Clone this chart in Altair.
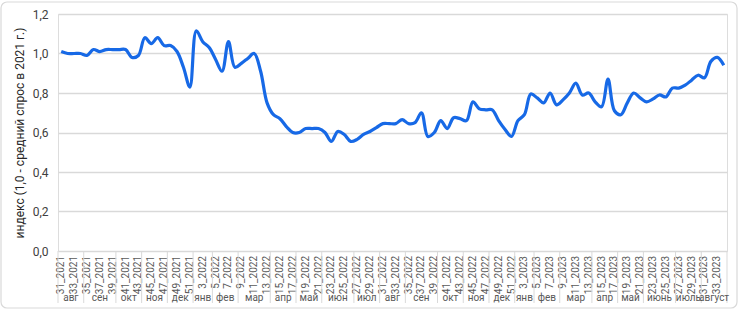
import altair as alt
import pandas as pd

weeks = [
    "31_2021", "32_2021", "33_2021", "34_2021", "35_2021", "36_2021", "37_2021", "38_2021",
    "39_2021", "40_2021", "41_2021", "42_2021", "43_2021", "44_2021", "45_2021", "46_2021",
    "47_2021", "48_2021", "49_2021", "50_2021", "51_2021", "1_2022", "3_2022", "4_2022",
    "5_2022", "6_2022", "7_2022", "8_2022", "9_2022", "10_2022", "11_2022", "12_2022",
    "13_2022", "14_2022", "15_2022", "16_2022", "17_2022", "18_2022", "19_2022", "20_2022",
    "21_2022", "22_2022", "23_2022", "24_2022", "25_2022", "26_2022", "27_2022", "28_2022",
    "29_2022", "30_2022", "31_2022", "32_2022", "33_2022", "34_2022", "35_2022", "36_2022",
    "37_2022", "38_2022", "39_2022", "40_2022", "41_2022", "42_2022", "43_2022", "44_2022",
    "45_2022", "46_2022", "47_2022", "48_2022", "49_2022", "50_2022", "51_2022", "1_2023",
    "3_2023", "4_2023", "5_2023", "6_2023", "7_2023", "8_2023", "9_2023", "10_2023",
    "11_2023", "12_2023", "13_2023", "14_2023", "15_2023", "16_2023", "17_2023", "18_2023",
    "19_2023", "20_2023", "21_2023", "22_2023", "23_2023", "24_2023", "25_2023", "26_2023",
    "27_2023", "28_2023", "29_2023", "30_2023", "31_2023", "32_2023", "33_2023", "34_2023",
]

values = [
    1.01, 1.00, 1.00, 1.00, 0.99, 1.02, 1.01, 1.02, 1.02, 1.02,
    1.02, 0.98, 0.99, 1.08, 1.05, 1.08, 1.04, 1.04, 1.01, 0.93,
    0.83, 1.115, 1.06, 1.03, 0.97, 0.91, 1.06, 0.93, 0.95, 0.975,
    1.00, 0.91, 0.75, 0.69, 0.67, 0.63, 0.60, 0.60, 0.62, 0.62,
    0.62, 0.60, 0.555, 0.605, 0.59, 0.555, 0.565, 0.59, 0.605, 0.625,
    0.645, 0.645, 0.645, 0.665, 0.645, 0.65, 0.70, 0.58, 0.60, 0.66,
    0.62, 0.675, 0.67, 0.66, 0.755, 0.72, 0.715, 0.715, 0.66, 0.615,
    0.58, 0.66, 0.69, 0.795, 0.775, 0.75, 0.80, 0.74, 0.765, 0.80,
    0.85, 0.79, 0.80, 0.755, 0.73, 0.87, 0.71, 0.69, 0.75, 0.80,
    0.775, 0.755, 0.77, 0.79, 0.78, 0.825, 0.825, 0.84, 0.865, 0.89,
    0.877, 0.96, 0.98, 0.94,
]

month_names = [
    "авг", "сен", "окт", "ноя", "дек", "янв", "фев", "мар", "апр", "май", "июн", "июл",
    "авг", "сен", "окт", "ноя", "дек", "янв", "фев", "мар", "апр", "май", "июнь", "июль", "август",
]
month_sizes = [4, 5, 4, 4, 4, 3, 4, 5, 4, 4, 5, 4, 4, 5, 4, 4, 4, 3, 4, 5, 4, 4, 5, 4, 4]

y_title = "индекс (1,0 - средний спрос в 2021 г.)"

df = pd.DataFrame({"i": list(range(len(weeks))), "week": weeks, "value": values})
ldf = df[df["i"] % 2 == 0].copy()

centers, bounds = [], []
pos = 0
for s in month_sizes:
    centers.append(pos + (s - 1) / 2)
    bounds.append(pos - 0.5)
    pos += s
bounds.append(pos - 0.5)
mdf = pd.DataFrame({"name": month_names, "center": centers})
bdf = pd.DataFrame({"b": bounds})

W, H = 669, 237
N = len(weeks)
xscale = alt.Scale(domain=[-0.5, N - 0.5], nice=False, zero=False)

border = alt.Chart(pd.DataFrame({"k": [0]})).mark_rect(
    fill="white", fillOpacity=0, stroke="#d9d9d9", strokeWidth=1.2, cornerRadius=6
).encode(
    x=alt.value(-57), x2=alt.value(679), y=alt.value(-12), y2=alt.value(294)
)

line = alt.Chart(df).mark_line(
    interpolate="catmull-rom", color="#1769e6", strokeWidth=3.2
).encode(
    x=alt.X("i:Q", scale=xscale, axis=None),
    y=alt.Y(
        "value:Q",
        scale=alt.Scale(domain=[0, 1.2], nice=False),
        axis=alt.Axis(
            values=[0, 0.2, 0.4, 0.6, 0.8, 1.0, 1.2],
            labelExpr="replace(format(datum.value, '.1f'), '.', ',')",
            labelFontSize=12,
            labelColor="#404040",
            labelPadding=10,
            ticks=False,
            domain=False,
            grid=True,
            gridColor="#d9d9d9",
            gridWidth=1.5,
            title=y_title,
            titleFontSize=12,
            titleFontWeight="normal",
            titleColor="#262626",
            titlePadding=6,
        ),
    ),
)

week_labels = alt.Chart(ldf).mark_text(
    angle=270, align="right", baseline="middle", fontSize=10, color="#595959"
).encode(
    x=alt.X("i:Q", scale=xscale, axis=None),
    y=alt.value(242),
    text="week:N",
)

seps = alt.Chart(bdf).mark_rule(color="#d9d9d9", strokeWidth=1).encode(
    x=alt.X("b:Q", scale=xscale, axis=None), y=alt.value(237), y2=alt.value(289)
)

months = alt.Chart(mdf).mark_text(
    fontSize=10, color="#595959", baseline="middle", align="center"
).encode(
    x=alt.X("center:Q", scale=xscale, axis=None), y=alt.value(284), text="name:N"
)

chart = alt.layer(border, line, week_labels, seps, months).properties(
    width=W,
    height=H,
    padding={"left": 58, "top": 14, "right": 13, "bottom": 61},
    autosize="none",
).configure_view(stroke=None).configure(font="Roboto")

chart.save("out.html", embed_options={"renderer": "svg", "actions": False})
